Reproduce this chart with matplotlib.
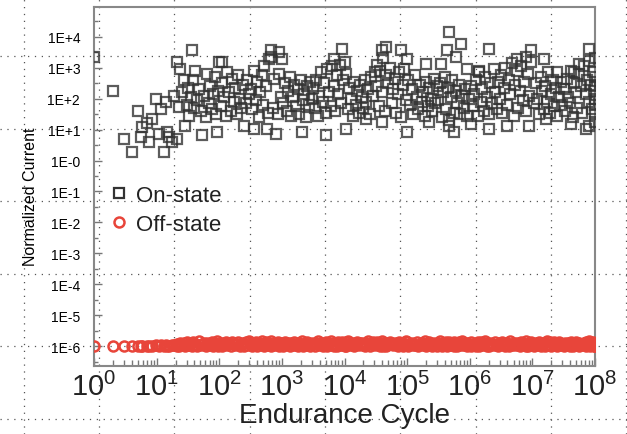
import numpy as np
import matplotlib
matplotlib.use("Agg")
import matplotlib.pyplot as plt
from matplotlib.lines import Line2D
from matplotlib.ticker import FixedLocator, FuncFormatter, LogLocator, NullFormatter

plt.rcParams.update({
    'font.family': ['Liberation Sans', 'DejaVu Sans'],
    'mathtext.fontset': 'custom',
    'mathtext.rm': 'Liberation Sans',
    'mathtext.it': 'Liberation Sans',
    'mathtext.default': 'regular',
})

# Data: log10(cycle), log10(on-state current), off-state current (x1e-6)
cycle_exp = [
    0.00, 0.30, 0.48, 0.60, 0.70, 0.75, 0.77, 0.85, 0.88, 0.93,
    0.99, 1.04, 1.07, 1.12, 1.15, 1.17, 1.20, 1.25, 1.28, 1.33,
    1.33, 1.36, 1.38, 1.40, 1.44, 1.46, 1.48, 1.50, 1.52, 1.55,
    1.57, 1.58, 1.60, 1.62, 1.65, 1.68, 1.70, 1.73, 1.75, 1.78,
    1.80, 1.83, 1.85, 1.88, 1.90, 1.93, 1.95, 1.96, 1.98, 2.00,
    2.02, 2.04, 2.05, 2.07, 2.10, 2.13, 2.15, 2.18, 2.20, 2.23,
    2.25, 2.28, 2.30, 2.33, 2.35, 2.38, 2.40, 2.42, 2.45, 2.48,
    2.50, 2.53, 2.55, 2.56, 2.58, 2.60, 2.63, 2.65, 2.68, 2.70,
    2.72, 2.75, 2.76, 2.78, 2.80, 2.82, 2.83, 2.85, 2.88, 2.90,
    2.93, 2.95, 2.96, 2.98, 3.00, 3.02, 3.05, 3.08, 3.10, 3.13,
    3.15, 3.18, 3.20, 3.23, 3.25, 3.28, 3.30, 3.32, 3.33, 3.35,
    3.38, 3.40, 3.43, 3.45, 3.48, 3.50, 3.53, 3.55, 3.58, 3.60,
    3.63, 3.65, 3.68, 3.70, 3.70, 3.72, 3.75, 3.78, 3.80, 3.83,
    3.83, 3.85, 3.88, 3.90, 3.93, 3.95, 3.96, 3.98, 4.00, 4.02,
    4.02, 4.05, 4.07, 4.10, 4.13, 4.15, 4.18, 4.20, 4.23, 4.25,
    4.28, 4.30, 4.33, 4.34, 4.35, 4.38, 4.40, 4.43, 4.45, 4.48,
    4.50, 4.52, 4.55, 4.57, 4.60, 4.60, 4.60, 4.62, 4.65, 4.66,
    4.67, 4.70, 4.72, 4.75, 4.77, 4.80, 4.82, 4.85, 4.87, 4.90,
    4.90, 4.93, 4.95, 4.98, 5.00, 5.00, 5.02, 5.05, 5.08, 5.10,
    5.13, 5.15, 5.18, 5.20, 5.23, 5.25, 5.28, 5.30, 5.30, 5.33,
    5.35, 5.35, 5.38, 5.40, 5.43, 5.45, 5.48, 5.50, 5.53, 5.54,
    5.55, 5.58, 5.60, 5.62, 5.64, 5.65, 5.67, 5.67, 5.67, 5.70,
    5.72, 5.75, 5.75, 5.78, 5.78, 5.80, 5.83, 5.85, 5.86, 5.88,
    5.90, 5.93, 5.95, 5.96, 5.98, 6.02, 6.02, 6.05, 6.07, 6.10,
    6.13, 6.15, 6.15, 6.18, 6.20, 6.23, 6.25, 6.28, 6.30, 6.31,
    6.31, 6.33, 6.35, 6.38, 6.40, 6.43, 6.45, 6.48, 6.50, 6.52,
    6.55, 6.57, 6.60, 6.60, 6.62, 6.65, 6.67, 6.70, 6.72, 6.75,
    6.76, 6.77, 6.80, 6.82, 6.85, 6.87, 6.90, 6.90, 6.93, 6.95,
    6.95, 6.98, 6.98, 7.02, 7.05, 7.08, 7.10, 7.13, 7.15, 7.18,
    7.19, 7.20, 7.22, 7.23, 7.25, 7.28, 7.30, 7.33, 7.35, 7.38,
    7.40, 7.40, 7.43, 7.45, 7.48, 7.50, 7.52, 7.55, 7.57, 7.60,
    7.61, 7.62, 7.65, 7.67, 7.67, 7.70, 7.72, 7.75, 7.75, 7.77,
    7.80, 7.82, 7.85, 7.85, 7.87, 7.90, 7.91, 7.91, 7.91, 7.92,
    7.95, 7.97, 7.99, 8.00, 8.00, 8.00, 8.00, 8.00, 8.00, 8.00,
]

on_exp = [
    3.35, 2.26, 0.70, 0.27, 1.61, 0.75, 1.08, 1.20, 0.59, 1.35,
    1.99, 0.86, 1.67, 0.27, 1.89, 0.92, 0.75, 0.61, 2.10, 0.70,
    3.18, 1.72, 2.96, 2.20, 2.59, 1.13, 1.80, 2.35, 1.45, 2.05,
    3.56, 2.60, 1.70, 2.90, 1.95, 2.30, 1.60, 0.81, 2.10, 1.40,
    2.80, 1.85, 2.40, 1.65, 2.15, 2.70, 1.50, 0.93, 2.25, 3.20,
    1.75, 3.18, 2.50, 2.05, 1.45, 2.85, 2.20, 1.60, 2.65, 1.90,
    2.35, 1.50, 2.75, 2.00, 1.70, 2.45, 1.13, 1.85, 2.60, 2.15,
    2.30, 1.65, 2.90, 1.02, 1.95, 2.55, 1.40, 2.20, 2.75, 1.80,
    3.05, 2.40, 1.02, 1.55, 3.29, 3.56, 3.35, 1.70, 2.65, 0.86,
    1.50, 2.80, 3.50, 2.05, 3.29, 1.85, 2.50, 1.60, 2.25, 2.70,
    1.45, 2.05, 2.45, 1.75, 2.30, 1.50, 2.60, 0.93, 1.95, 2.15,
    1.40, 2.40, 1.80, 2.55, 2.00, 2.35, 1.70, 2.60, 1.45, 2.10,
    2.85, 1.90, 2.50, 1.55, 0.81, 2.95, 2.20, 1.75, 3.05, 3.29,
    2.40, 1.60, 2.75, 2.15, 3.10, 1.85, 3.60, 2.60, 3.19, 1.02,
    2.80, 1.65, 2.35, 2.00, 1.45, 2.55, 1.80, 2.25, 1.55, 2.45,
    2.05, 1.70, 2.60, 1.35, 1.90, 2.30, 1.50, 2.70, 2.10, 2.85,
    2.40, 3.10, 1.75, 2.90, 2.20, 3.56, 1.25, 3.30, 1.60, 3.67,
    2.75, 2.50, 3.00, 1.85, 2.30, 2.65, 1.55, 2.15, 2.85, 3.56,
    1.40, 2.45, 2.95, 1.95, 3.29, 0.93, 2.60, 1.80, 2.30, 1.50,
    2.75, 2.05, 1.65, 2.45, 1.90, 2.20, 1.45, 2.55, 3.13, 1.75,
    2.35, 1.25, 2.00, 1.60, 2.65, 1.85, 2.40, 1.95, 2.50, 3.13,
    1.40, 2.20, 2.70, 1.65, 3.56, 2.35, 4.15, 1.30, 1.13, 2.05,
    2.60, 1.55, 0.93, 2.25, 3.34, 1.85, 2.45, 1.50, 3.77, 2.10,
    1.70, 2.30, 1.45, 2.96, 2.00, 2.40, 1.18, 1.75, 2.15, 2.60,
    1.45, 2.85, 2.91, 1.90, 2.30, 1.60, 2.70, 2.05, 1.50, 3.61,
    1.02, 2.50, 1.85, 2.95, 2.20, 1.65, 2.55, 2.00, 2.75, 1.55,
    2.35, 3.00, 1.80, 1.13, 2.60, 2.15, 3.15, 1.45, 2.45, 2.90,
    3.29, 1.70, 2.25, 3.05, 1.95, 2.55, 1.60, 3.34, 2.80, 1.13,
    2.10, 3.20, 3.56, 1.85, 2.50, 2.00, 1.50, 2.70, 2.25, 1.65,
    3.29, 2.40, 1.35, 1.90, 2.85, 1.55, 2.15, 2.60, 1.75, 2.35,
    1.45, 2.87, 2.05, 2.55, 1.80, 2.30, 1.60, 2.65, 2.05, 1.85,
    1.18, 2.90, 1.40, 2.50, 2.87, 2.20, 1.70, 2.80, 3.13, 2.40,
    1.55, 3.05, 2.15, 1.02, 2.60, 1.90, 3.61, 3.23, 1.13, 2.45,
    1.65, 2.85, 2.25, 1.50, 3.30, 2.70, 2.00, 1.25, 2.40, 1.80,
]

off_mant = [
    1.00, 1.00, 1.00, 1.00, 1.00, 1.00, 1.02, 1.00, 1.03, 1.00,
    1.05, 1.00, 1.08, 1.02, 1.10, 1.04, 1.00, 1.12, 1.06, 1.02,
    1.15, 1.02, 1.30, 1.08, 1.22, 1.00, 1.38, 1.12, 1.05, 1.26,
    1.04, 1.33, 1.10, 1.20, 1.01, 1.42, 1.07, 1.18, 1.28, 1.03,
    1.25, 1.06, 1.14, 1.36, 1.00, 1.21, 1.09, 1.45, 1.03, 1.17,
    1.11, 1.29, 1.02, 1.19, 1.40, 1.05, 1.24, 1.00, 1.34, 1.13,
    1.07, 1.20, 1.35, 1.01, 1.16, 1.27, 1.04, 1.31, 1.10, 1.43,
    1.18, 1.03, 1.27, 1.09, 1.37, 1.00, 1.22, 1.13, 1.44, 1.06,
    1.02, 1.32, 1.15, 1.05, 1.24, 1.41, 1.00, 1.19, 1.08, 1.29,
    1.36, 1.10, 1.01, 1.23, 1.14, 1.04, 1.39, 1.17, 1.28, 1.00,
    1.21, 1.06, 1.33, 1.12, 1.00, 1.26, 1.09, 1.44, 1.03, 1.16,
    1.08, 1.37, 1.19, 1.02, 1.30, 1.14, 1.00, 1.25, 1.41, 1.11,
    1.27, 1.04, 1.15, 1.35, 1.07, 1.00, 1.22, 1.46, 1.12, 1.03,
    1.13, 1.24, 1.01, 1.40, 1.18, 1.06, 1.31, 1.09, 1.00, 1.34,
    1.03, 1.43, 1.20, 1.08, 1.28, 1.01, 1.16, 1.37, 1.05, 1.23,
    1.30, 1.10, 1.00, 1.26, 1.14, 1.45, 1.04, 1.19, 1.33, 1.07,
    1.16, 1.38, 1.06, 1.00, 1.24, 1.12, 1.42, 1.02, 1.29, 1.09,
    1.00, 1.21, 1.34, 1.13, 1.05, 1.27, 1.17, 1.01, 1.39, 1.10,
    1.25, 1.03, 1.18, 1.44, 1.08, 1.31, 1.00, 1.15, 1.22, 1.05,
    1.11, 1.36, 1.02, 1.20, 1.28, 1.06, 1.41, 1.13, 1.00, 1.24,
    1.35, 1.07, 1.19, 1.01, 1.30, 1.15, 1.04, 1.26, 1.43, 1.09,
    1.02, 1.27, 1.12, 1.37, 1.00, 1.21, 1.08, 1.33, 1.17, 1.05,
    1.19, 1.00, 1.40, 1.10, 1.25, 1.03, 1.32, 1.14, 1.06, 1.45,
    1.08, 1.23, 1.04, 1.29, 1.16, 1.00, 1.38, 1.11, 1.20, 1.02,
    1.31, 1.13, 1.00, 1.35, 1.07, 1.22, 1.42, 1.04, 1.18, 1.09,
    1.00, 1.26, 1.15, 1.05, 1.39, 1.11, 1.02, 1.28, 1.21, 1.34,
    1.14, 1.03, 1.30, 1.19, 1.00, 1.44, 1.09, 1.24, 1.06, 1.16,
    1.27, 1.08, 1.01, 1.36, 1.12, 1.20, 1.04, 1.41, 1.00, 1.23,
    1.05, 1.33, 1.17, 1.00, 1.26, 1.10, 1.38, 1.02, 1.15, 1.29,
    1.21, 1.00, 1.12, 1.43, 1.07, 1.31, 1.03, 1.18, 1.35, 1.09,
    1.02, 1.25, 1.38, 1.06, 1.16, 1.00, 1.30, 1.11, 1.22, 1.04,
    1.34, 1.13, 1.00, 1.27, 1.08, 1.40, 1.19, 1.03, 1.24, 1.14,
    1.06, 1.21, 1.32, 1.00, 1.17, 1.05, 1.42, 1.28, 1.10, 1.01,
    1.15, 1.36, 1.04, 1.23, 1.09, 1.30, 1.02, 1.19, 1.12, 1.00,
]

x_tick_exp = [0, 1, 2, 3, 4, 5, 6, 7, 8]
y_tick_exp = [4, 3, 2, 1, 0, -1, -2, -3, -4, -5, -6]

cycles = 10.0 ** np.array(cycle_exp)
on_current = 10.0 ** np.array(on_exp)
off_current = np.array(off_mant) * 1e-6

fig = plt.figure(figsize=(6.27, 4.35), dpi=100)
ax = fig.add_axes([0.150, 0.156, 0.799, 0.826])
ax.set_facecolor('none')

# dotted background grid across the whole picture
dot_style = dict(color='#555555', linewidth=0.9, linestyle=(0, (1, 4.5)), zorder=-5)
for xp in [24, 99, 174, 249.5, 325, 400, 476, 551, 626]:
    fig.add_artist(Line2D([xp / 627, xp / 627], [0, 1], transform=fig.transFigure, **dot_style))
for yp in [57, 130, 202, 275, 347, 420]:
    fig.add_artist(Line2D([0, 1], [1 - yp / 435, 1 - yp / 435], transform=fig.transFigure, **dot_style))

ax.plot(cycles, on_current, linestyle='none', marker='s', markersize=7.8,
        markerfacecolor='none', markeredgecolor='#333333', markeredgewidth=1.6,
        alpha=0.8, label='On-state', zorder=3)
ax.plot(cycles, off_current, linestyle='none', marker='o', markersize=7.2,
        markerfacecolor='none', markeredgecolor='#e8453a', markeredgewidth=1.8,
        label='Off-state', zorder=3)

ax.set_xscale('log')
ax.set_yscale('log')
ax.set_xlim(1, 1e8)
ax.set_ylim(10 ** -6.65, 10 ** 4.97)

ax.xaxis.set_major_locator(FixedLocator([10.0 ** k for k in x_tick_exp]))
ax.xaxis.set_minor_locator(LogLocator(base=10, subs=np.arange(2, 10), numticks=20))
ax.xaxis.set_minor_formatter(NullFormatter())
ax.xaxis.set_major_formatter(FuncFormatter(lambda v, p: r'$10^{%d}$' % round(np.log10(v))))


def ylab(v, p):
    k = int(round(np.log10(v)))
    if k > 0:
        return '1E+%d' % k
    if k == 0:
        return '1E-0'
    return '1E%d' % k


ax.yaxis.set_major_locator(FixedLocator([10.0 ** k for k in y_tick_exp]))
ax.yaxis.set_minor_locator(FixedLocator([10.0 ** (k + 0.5) for k in range(-7, 5)]))
ax.yaxis.set_minor_formatter(NullFormatter())
ax.yaxis.set_major_formatter(FuncFormatter(ylab))

ax.tick_params(axis='both', which='both', direction='in', color='#777777', top=False, right=False)
ax.tick_params(axis='x', which='major', length=6, width=1, labelsize=21, pad=4, labelcolor='#222222')
ax.tick_params(axis='x', which='minor', length=4, width=1)
ax.tick_params(axis='y', which='major', length=6, width=1, labelsize=10, pad=10, labelcolor='black')
ax.tick_params(axis='y', which='minor', length=3, width=1)

for s in ax.spines.values():
    s.set_color('#888888')
    s.set_linewidth(1.5)

ax.set_xlabel('Endurance Cycle', fontsize=20, color='#222222', labelpad=1)
ax.set_ylabel('Normalized Current', fontsize=11.5, color='black')
ax.yaxis.set_label_coords(-0.112, 0.474)

leg = ax.legend(loc='upper left', bbox_to_anchor=(0.027, 0.51), frameon=False,
                fontsize=16, handlelength=0.8, handletextpad=0.4, labelspacing=0.35,
                borderpad=0.1, borderaxespad=0)
for t in leg.get_texts():
    t.set_color('#222222')
for h in leg.legend_handles:
    h.set_alpha(1)

fig.savefig('out.png', dpi=100)
